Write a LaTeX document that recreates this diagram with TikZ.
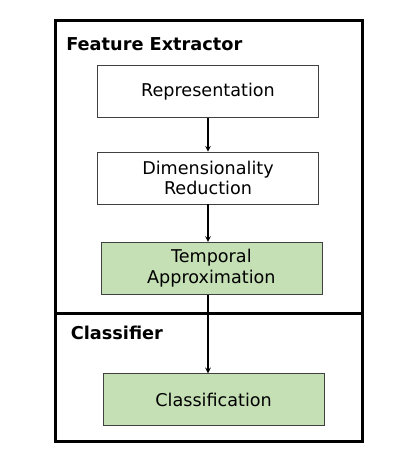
\documentclass[tikz,border=0pt]{standalone}
\usepackage{fontspec}
\setmainfont{DejaVu Sans}
\usetikzlibrary{arrows}
\definecolor{boxgreen}{HTML}{C5E0B4}
\definecolor{boxline}{HTML}{404040}
\tikzstyle{white} = [rectangle, minimum width=165.75pt, minimum height=39pt, text centered, align=center, draw=boxline, fill=white, font=\fontsize{13.2}{15.6}\selectfont]
\tikzstyle{green} = [rectangle, minimum width=165.75pt, minimum height=39pt, text centered, align=center, draw=boxline, fill=boxgreen, font=\fontsize{13.2}{15.6}\selectfont]
\tikzstyle{title} = [anchor=west, inner sep=0pt, font=\fontsize{13.3}{15.6}\selectfont\bfseries]
\tikzstyle{frame} = [line width=2.25pt, black]
\tikzstyle{arrow} = [line width=0.9pt,->,>=stealth]
\begin{document}
\begin{tikzpicture}[x=0.75pt, y=-0.75pt, node distance=64.7pt]
\useasboundingbox (0,0) rectangle (407,467);

% Frames
\draw [frame] (55,21) rectangle (362,441);
\draw [frame] (55,313) -- (362,313);
\node (titleFE) [title] at (66,44) {Feature Extractor};
\node (titleCL) [title] at (70.5,333) {Classifier};

% Feature extractor
\node (repr) [white] at (208,91.7) {Representation};
\node (dimred) [white, below of=repr] {Dimensionality\\Reduction};
\node (tempapprox) [green, below of=dimred, xshift=2.5pt, yshift=-3pt] {Temporal\\Approximation};

% Classifier
\node (classif) [green, below of=tempapprox, xshift=1.7pt, yshift=-33.8pt] {Classification};

% Arrows
\draw [arrow] (repr.south) -- (repr.south |- dimred.north);
\draw [arrow] (dimred.south) -- (dimred.south |- tempapprox.north);
\draw [arrow] (dimred.south |- tempapprox.south) -- (dimred.south |- classif.north);

\end{tikzpicture}
\end{document}
